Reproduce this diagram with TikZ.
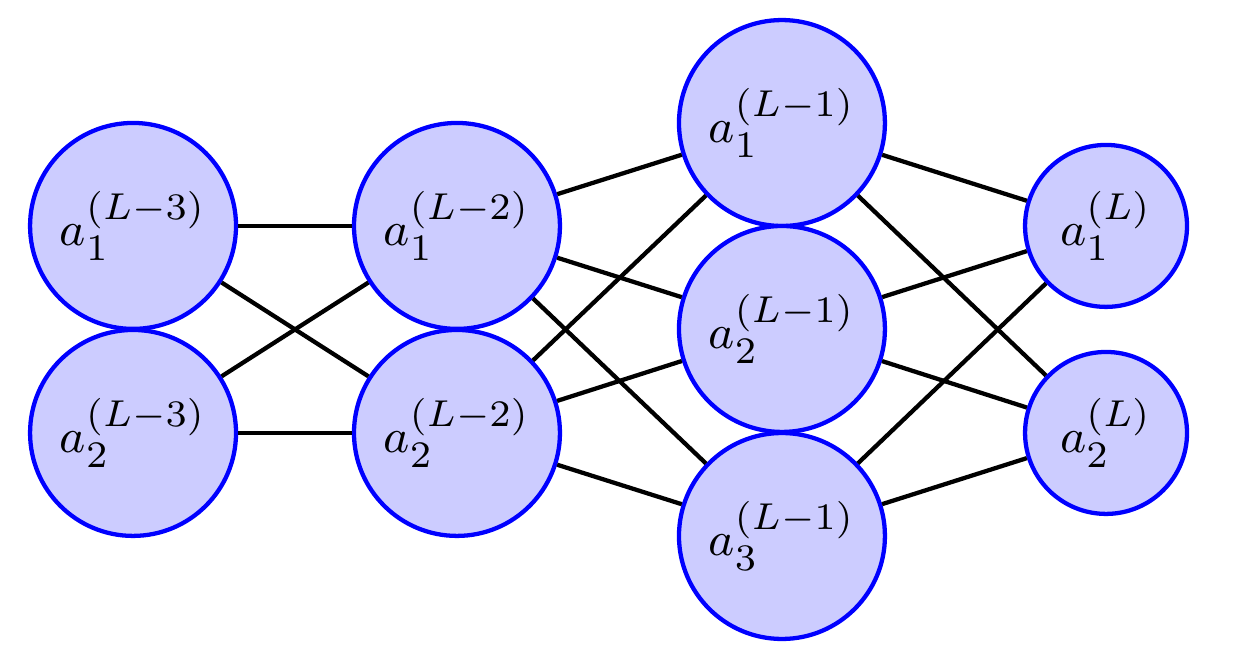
\documentclass[tikz,border=0pt]{standalone}
\usepackage{amsmath,amssymb}
\usepackage{tikz}
\usetikzlibrary{positioning,calc}

\tikzset{
    neuron/.style={circle, draw=blue, thick, fill=blue!20, inner sep=0pt, minimum size=1.353cm, font=\fontsize{9.5pt}{11pt}\selectfont},
    outneuron/.style={neuron, minimum size=1.064cm},
    link/.style={thick, black}
}

\begin{document}
\begin{tikzpicture}
    \useasboundingbox (-0.874,-2.214) rectangle (7.259,2.161);

    % Layer L-3
    \node[neuron] (a1) at (0,0.677) {$a_1^{(L-3)}$};
    \node[neuron] (a2) at (0,-0.683) {$a_2^{(L-3)}$};

    % Layer L-2
    \node[neuron] (b1) at (2.128,0.677) {$a_1^{(L-2)}$};
    \node[neuron] (b2) at (2.128,-0.683) {$a_2^{(L-2)}$};

    % Layer L-1
    \node[neuron] (c1) at (4.263,1.353) {$a_1^{(L-1)}$};
    \node[neuron] (c2) at (4.263,0) {$a_2^{(L-1)}$};
    \node[neuron] (c3) at (4.263,-1.360) {$a_3^{(L-1)}$};

    % Layer L
    \node[outneuron] (d1) at (6.392,0.677) {$a_1^{(L)}$};
    \node[outneuron] (d2) at (6.392,-0.683) {$a_2^{(L)}$};

    % Connections
    \draw[link] (a1) -- (b1);
    \draw[link] (a1) -- (b2);
    \draw[link] (a2) -- (b1);
    \draw[link] (a2) -- (b2);

    \draw[link] (b1) -- (c1);
    \draw[link] (b1) -- (c2);
    \draw[link] (b1) -- (c3);
    \draw[link] (b2) -- (c1);
    \draw[link] (b2) -- (c2);
    \draw[link] (b2) -- (c3);

    \draw[link] (c1) -- (d1);
    \draw[link] (c1) -- (d2);
    \draw[link] (c2) -- (d1);
    \draw[link] (c2) -- (d2);
    \draw[link] (c3) -- (d1);
    \draw[link] (c3) -- (d2);
\end{tikzpicture}
\end{document}
